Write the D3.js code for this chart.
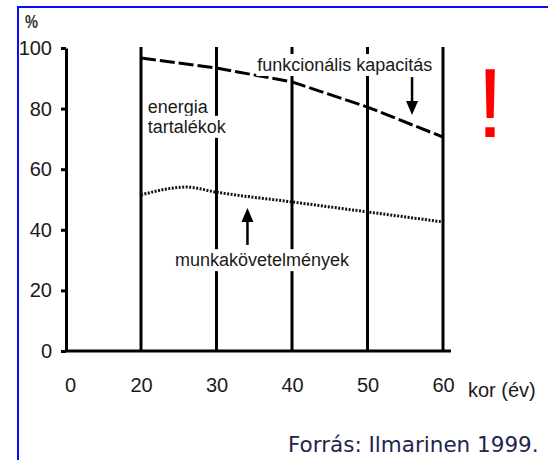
<!DOCTYPE html>
<html>
<head>
<meta charset="utf-8">
<script src="https://cdn.jsdelivr.net/npm/d3@7"></script>
<style>
    body { margin: 0; background: #fff; }
    text { font-family: Arial, "Liberation Sans", sans-serif; fill: #1a1a1a; }
</style>
</head>
<body>
<svg id="chart" width="548" height="460"></svg>
<script>
// kor (év) -> %
var ticksX = [0, 20, 30, 40, 50, 60];
var ticksY = [0, 20, 40, 60, 80, 100];
var ages = [20, 30, 40, 50, 60];
var capacity = [96.7, 93.4, 88.8, 80.5, 70.6];          // funkcionális kapacitás
var demandAges = [20, 26, 30, 40, 50, 60];
var demands = [51.5, 54.1, 52.4, 49.2, 45.9, 42.6];     // munkakövetelmények

var svg = d3.select("#chart");

var margin = {left: 66, bottom: 351, top: 48};

// the axis is broken between 0 and 20
var x = d3.scaleLinear()
    .domain([0, 20, 60])
    .range([70, 141, 443]);

var y = d3.scaleLinear()
    .domain([0, 100])
    .range([margin.bottom, margin.top]);

// blue frame
svg.append("rect")
    .attr("x", 18).attr("y", 7)
    .attr("width", 600).attr("height", 600)
    .attr("fill", "none")
    .attr("stroke", "#0a0aff")
    .attr("stroke-width", 2);

// vertical age lines
svg.append("g")
    .selectAll("line")
    .data(ages)
    .enter().append("line")
    .attr("x1", d => x(d)).attr("x2", d => x(d))
    .attr("y1", y(0)).attr("y2", y(100) - 1)
    .attr("stroke", "#000")
    .attr("stroke-width", 3);

// lines
var capLine = d3.line()
    .x(function(d, i){ return x(ages[i]) })
    .y(function(d){ return y(d) });

svg.append("path")
    .datum(capacity)
    .attr("d", capLine)
    .attr("fill", "none")
    .attr("stroke", "#000")
    .attr("stroke-width", 3)
    .attr("stroke-dasharray", "15,4");

var demLine = d3.line()
    .curve(d3.curveMonotoneX)
    .x(function(d, i){ return x(demandAges[i]) })
    .y(function(d){ return y(d) });

svg.append("path")
    .datum(demands)
    .attr("d", demLine)
    .attr("fill", "none")
    .attr("stroke", "#111")
    .attr("stroke-width", 3)
    .attr("stroke-dasharray", "2,1.5");

// y axis
var yAxis = svg.append("g")
    .attr("transform", `translate(${margin.left},0)`)
    .call(d3.axisLeft(y).tickValues(ticksY).tickSize(5).tickSizeOuter(0).tickPadding(9));

yAxis.select(".domain").attr("stroke-width", 3);
yAxis.selectAll(".tick line").attr("stroke-width", 3);
yAxis.selectAll(".tick text")
    .style("font-size", "20px")
    .style("fill", "#1a1a1a");

// x axis base line
svg.append("line")
    .attr("x1", margin.left - 1).attr("x2", x(60) + 8)
    .attr("y1", y(0)).attr("y2", y(0))
    .attr("stroke", "#000")
    .attr("stroke-width", 3);

var xAxis = svg.append("g")
    .attr("transform", `translate(0,${y(0)})`)
    .call(d3.axisBottom(x).tickValues(ticksX).tickSize(0).tickPadding(27));

xAxis.select(".domain").remove();
xAxis.selectAll(".tick text")
    .style("font-size", "20px")
    .style("fill", "#1a1a1a");

svg.append("text")
    .attr("x", 25).attr("y", 28)
    .attr("textLength", 13)
    .attr("lengthAdjust", "spacingAndGlyphs")
    .style("font-size", "19px")
    .style("font-weight", "bold")
    .style("fill", "#333")
    .text("%");

svg.append("text")
    .attr("x", 468).attr("y", 397)
    .style("font-size", "20px")
    .text("kor (év)");

// labels with white background that cut the grid lines
function label(txt, xv, yv) {
    var g = svg.append("g");
    var t = g.append("text")
        .attr("x", x(xv)).attr("y", y(yv))
        .style("font-size", "18px")
        .text(txt);
    var b = t.node().getBBox();
    g.insert("rect", "text")
        .attr("x", b.x - 1).attr("y", b.y - 1)
        .attr("width", b.width + 2).attr("height", b.height + 2)
        .attr("fill", "#fff");
}

label("energia", 20.9, 78.5);
label("tartalékok", 20.9, 72);
label("funkcionális kapacitás", 35.4, 92.4);
label("munkakövetelmények", 24.5, 28);

// arrows
function arrow(xv, y0, y1) {
    var dir = y1 < y0 ? -1 : 1;
    var tip = y(y1);
    svg.append("line")
        .attr("x1", x(xv)).attr("x2", x(xv))
        .attr("y1", y(y0)).attr("y2", tip + dir * 10)
        .attr("stroke", "#000")
        .attr("stroke-width", 2.5);
    svg.append("path")
        .attr("d", `M${x(xv)},${tip} L${x(xv) - 6},${tip + dir * 14} L${x(xv) + 6},${tip + dir * 14}Z`)
        .attr("fill", "#000");
}

arrow(55.9, 90.4, 77.9);
arrow(34.1, 35.0, 47.2);

svg.append("text")
    .attr("x", 490).attr("y", 137)
    .attr("text-anchor", "middle")
    .style("font-family", "'Liberation Sans', Arial, sans-serif")
    .style("font-size", "98px")
    .style("fill", "#ff0000")
    .text("!");

svg.append("text")
    .attr("x", 288).attr("y", 452)
    .style("font-family", "'DejaVu Sans', Verdana, sans-serif")
    .style("font-size", "21.5px")
    .style("fill", "#22244f")
    .text("Forrás: Ilmarinen 1999.");
</script>
</body>
</html>
